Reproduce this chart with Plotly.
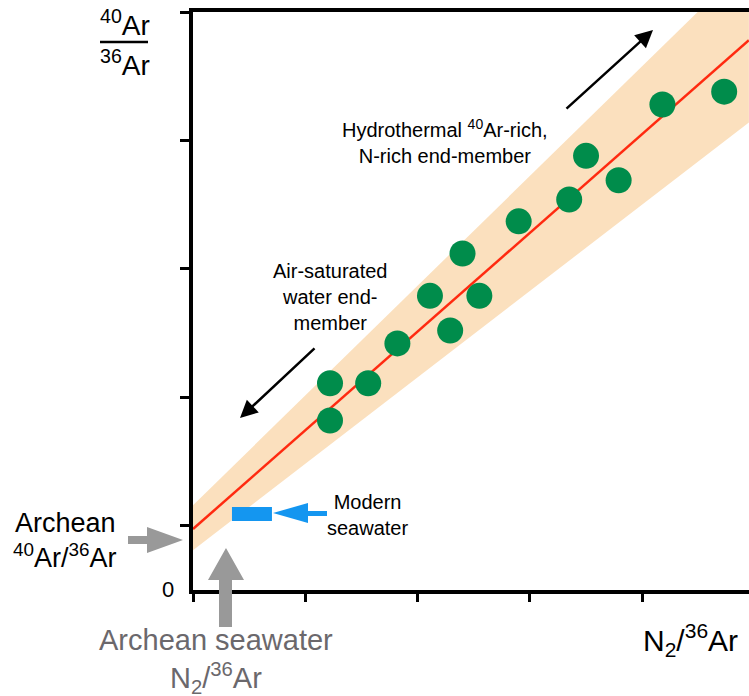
import plotly.graph_objects as go

# ---- data ----
pts_x = [1.22, 1.22, 1.56, 1.82, 2.11, 2.29, 2.40, 2.55, 2.90, 3.35, 3.50, 3.79, 4.18, 4.73]
pts_y = [1.61, 1.32, 1.61, 1.92, 2.29, 2.02, 2.62, 2.29, 2.87, 3.04, 3.38, 3.19, 3.78, 3.88]

fit_x = [0.0, 4.95]
fit_y = [0.475, 4.28]

band_x = [0.0, 4.95]
band_upper = [0.66, 4.89]
band_lower = [0.31, 3.64]

modern_x = [0.347, 0.703]
modern_y = [0.537, 0.646]

x_ticks = [0, 1, 2, 3, 4]
y_ticks = [0.5, 1.5, 2.5, 3.5, 4.5]

# ---- layout helpers (pixel -> paper) ----
W, H = 749, 696
L, T, B = 193, 12, 590
PW, PH = W - L, B - T


def P(px, py):
    return (px - L) / PW, (B - py) / PH


def path(points):
    s = ""
    for i, (px, py) in enumerate(points):
        x, y = P(px, py)
        s += ("M" if i == 0 else " L") + f" {x:.5f},{y:.5f}"
    return s + " Z"


FONT = "Liberation Sans, Arial, Helvetica, sans-serif"
GREEN = "#008C4B"
RED = "#FF2A10"
PEACH = "rgb(251,224,190)"
BLUE = "#1496F0"
GRAY = "#999999"
GRAYTXT = "#6b686c"

fig = go.Figure()

# band
fig.add_trace(go.Scatter(
    x=band_x + band_x[::-1], y=band_upper + band_lower[::-1],
    fill="toself", fillcolor=PEACH, line=dict(width=0), mode="lines",
    hoverinfo="skip", showlegend=False))
# fit line
fig.add_trace(go.Scatter(x=fit_x, y=fit_y, mode="lines",
                         line=dict(color=RED, width=2.5), showlegend=False))
# data points
fig.add_trace(go.Scatter(x=pts_x, y=pts_y, mode="markers",
                         marker=dict(color=GREEN, size=26, line=dict(width=0)),
                         showlegend=False))

shapes = []
# modern seawater box
shapes.append(dict(type="rect", xref="x", yref="y",
                   x0=modern_x[0], x1=modern_x[1], y0=modern_y[0], y1=modern_y[1],
                   fillcolor=BLUE, line=dict(width=0), layer="above"))
# blue arrow
shapes.append(dict(type="path", xref="paper", yref="paper",
                   path=path([(327, 511), (308, 511), (308, 503), (273, 513),
                              (308, 523), (308, 516), (327, 516)]),
                   fillcolor=BLUE, line=dict(width=0)))
# gray horizontal arrow
shapes.append(dict(type="path", xref="paper", yref="paper",
                   path=path([(128, 536), (147, 536), (147, 527), (183, 540),
                              (147, 553), (147, 544), (128, 544)]),
                   fillcolor=GRAY, line=dict(width=0)))
# gray vertical arrow
shapes.append(dict(type="path", xref="paper", yref="paper",
                   path=path([(219, 627), (219, 580), (208, 580), (226, 548),
                              (244, 580), (232, 580), (232, 627)]),
                   fillcolor=GRAY, line=dict(width=0)))
# fraction bar of y label
x0, y0 = P(100, 42)
x1, _ = P(148, 42)
shapes.append(dict(type="line", xref="paper", yref="paper", x0=x0, x1=x1, y0=y0, y1=y0,
                   line=dict(color="black", width=2.5)))

ann = []


def text(px, py, s, size, color="black", xanchor="center", align="center"):
    x, y = P(px, py)
    ann.append(dict(x=x, y=y, xref="paper", yref="paper", text=s, showarrow=False,
                    xanchor=xanchor, yanchor="middle", align=align,
                    font=dict(family=FONT, size=size, color=color)))


def arrow(tip, tail):
    x, y = P(*tip)
    ann.append(dict(x=x, y=y, xref="paper", yref="paper", text="", showarrow=True,
                    ax=tail[0] - tip[0], ay=tail[1] - tip[1],
                    arrowhead=2, arrowsize=1.4, arrowwidth=2.5, arrowcolor="black",
                    standoff=0, startstandoff=0))


text(125, 23, "<sup>40</sup>Ar", 28)
text(125, 63, "<sup>36</sup>Ar", 28)
text(65, 523, "Archean", 27)
text(65, 556, "<sup>40</sup>Ar/<sup>36</sup>Ar", 27)
text(168, 589, "0", 22)
text(216, 661, "Archean seawater<br>N<sub>2</sub>/<sup>36</sup>Ar", 29, GRAYTXT)
text(690, 640, "N<sub>2</sub>/<sup>36</sup>Ar", 30)
text(445, 141, "Hydrothermal <sup>40</sup>Ar-rich,<br>N-rich end-member", 20)
text(330, 297, "Air-saturated<br>water end-<br>member", 20)
text(367, 515, "Modern<br>seawater", 20)

arrow((240, 418), (316, 347))
arrow((653, 30), (565, 110))

fig.update_layout(
    width=W, height=H,
    margin=dict(l=L, r=0, t=T, b=H - B, pad=0),
    paper_bgcolor="white", plot_bgcolor="white",
    font=dict(family=FONT, color="black"),
    shapes=shapes, annotations=ann, showlegend=False,
    xaxis=dict(range=[0, PW / 112.3], tickvals=x_ticks, showticklabels=False,
               showgrid=False, zeroline=False, showline=True, linecolor="black",
               linewidth=4, mirror=True, ticks="outside", ticklen=8, tickwidth=2.5,
               tickcolor="black"),
    yaxis=dict(range=[0, 4.5], tickvals=y_ticks, showticklabels=False,
               showgrid=False, zeroline=False, showline=True, linecolor="black",
               linewidth=4, mirror=False, ticks="outside", ticklen=9, tickwidth=2.5,
               tickcolor="black"),
)

fig.write_html("out.html", config={"displayModeBar": False},
               post_script="document.body.style.margin='0px';document.body.style.overflow='hidden';")
